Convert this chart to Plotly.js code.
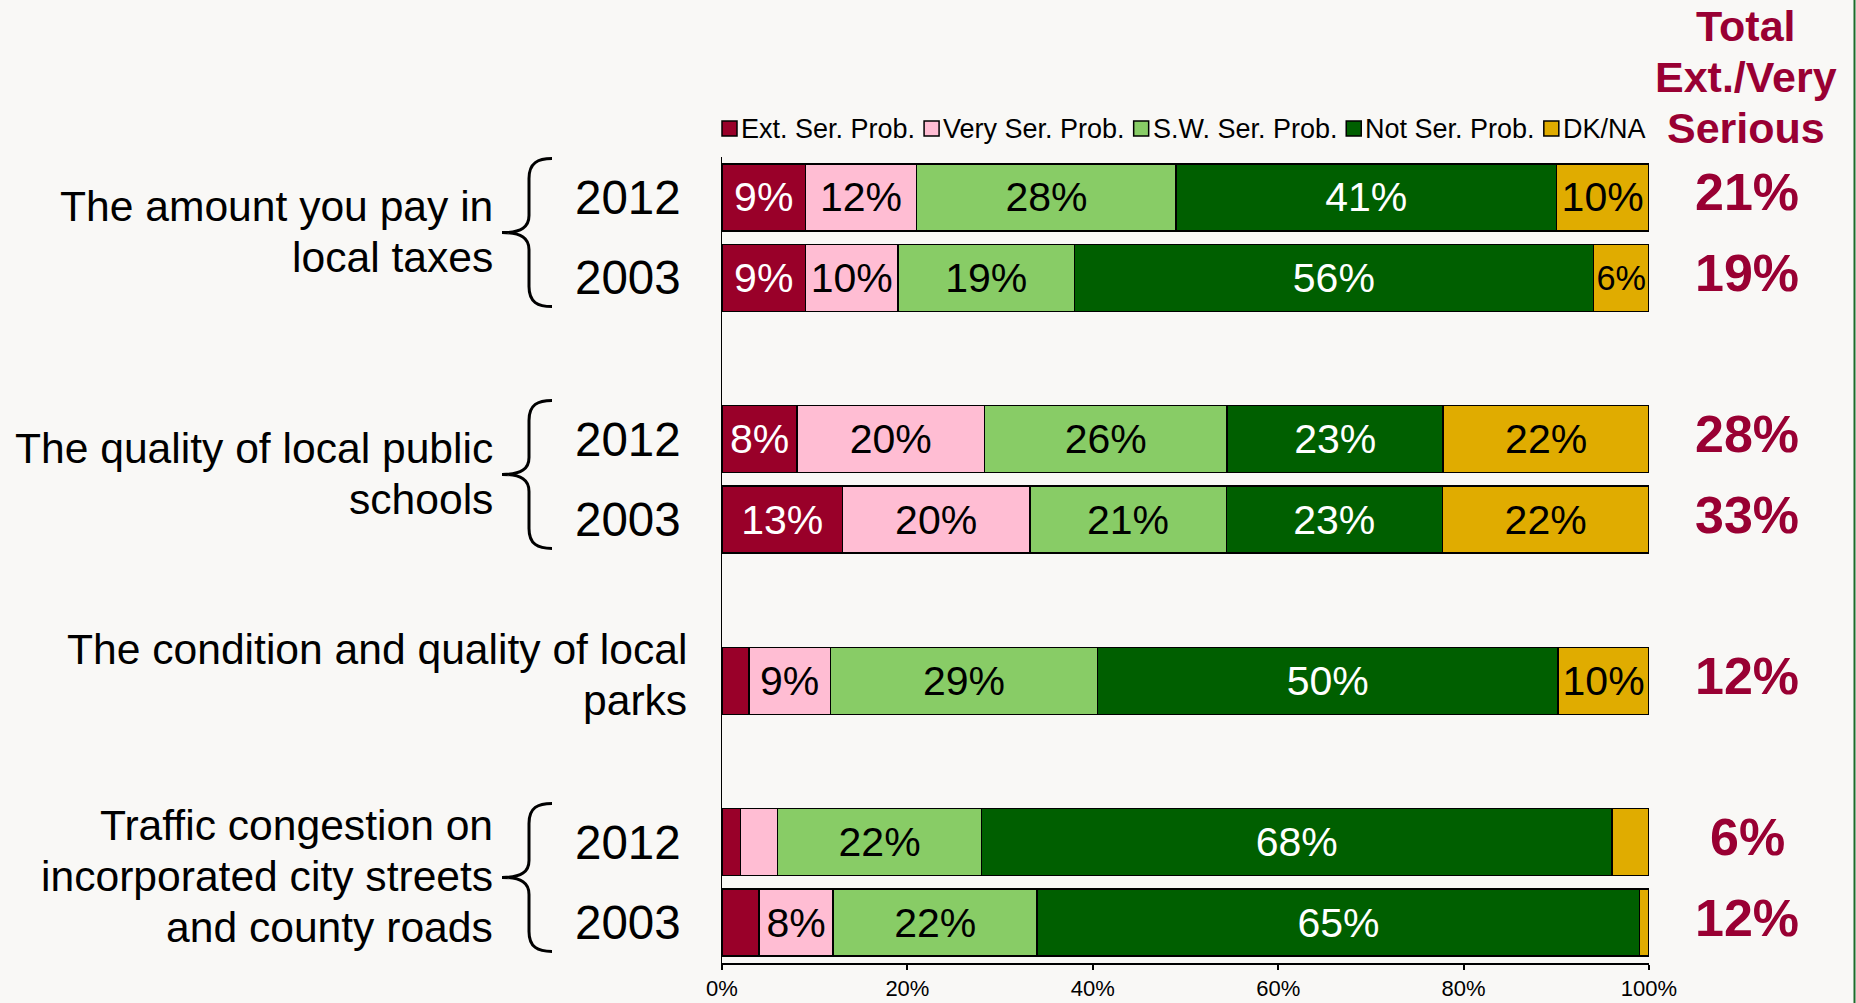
<!DOCTYPE html>
<html><head><meta charset="utf-8">
<script src="https://cdn.plot.ly/plotly-3.0.1.min.js"></script>
<style>html,body{margin:0;padding:0;background:#F9F8F6;} #chart{width:1856px;height:1003px;}</style>
</head><body><div id="chart"></div>
<script>
// ---------------- DATA ----------------
const categories = ['tax2012','tax2003','gap1','sch2012','sch2003','gap2','parks','gap3','traf2012','traf2003'];
const rows = ['tax2012','tax2003','sch2012','sch2003','parks','traf2012','traf2003'];
const yearLabels = ['2012','2003','2012','2003','','2012','2003'];
const seriesNames = ['Ext. Ser. Prob.','Very Ser. Prob.','S.W. Ser. Prob.','Not Ser. Prob.','DK/NA'];
const extSer  = [9, 9, 8.1, 13, 2.9, 2, 4];
const verySer = [12, 10, 20.2, 20.2, 8.8, 4, 8];
const swSer   = [28, 19, 26.2, 21.2, 28.8, 22, 22];
const notSer  = [41, 56, 23.3, 23.3, 49.7, 68, 65];
const dkNa    = [10, 6, 22.2, 22.3, 9.8, 4, 1];
const totals  = ['21%','19%','28%','33%','12%','6%','12%'];
const totalHeader = ['Total','Ext./Very','Serious'];
const groupLabels = [
  ['The amount you pay in','local taxes'],
  ['The quality of local public','schools'],
  ['The condition and quality of local','parks'],
  ['Traffic congestion on','incorporated city streets','and county roads']
];
const groupRows = [['tax2012','tax2003'],['sch2012','sch2003'],['parks'],['traf2012','traf2003']];
const xTicks = [0,20,40,60,80,100];

// ---------------- STYLE ----------------
const W = 1856, H = 1003;
const M = {l:722, r:207, t:157, b:40};
const PW = W - M.l - M.r, PH = H - M.t - M.b;
const px2x = p => (p - M.l) / PW;
const py2y = p => (H - M.b - p) / PH;
const FONT = "'Liberation Sans', Arial, Helvetica, sans-serif";
const BG = '#F9F8F6';
const RED = '#990033';
const colors = ['#990029','#FFBDD3','#88CC66','#005F00','#E0AC00'];
const textColors = ['#FFFFFF','#000000','#000000','#FFFFFF','#000000'];
const seriesValues = [extSer, verySer, swSer, notSer, dkNa];

const traces = seriesValues.map((vals, i) => ({
  type: 'bar', orientation: 'h', name: seriesNames[i],
  y: rows, x: vals,
  text: vals.map(v => v >= 5 ? Math.round(v) + '%' : ''),
  textposition: 'inside', insidetextanchor: 'middle', textangle: 0,
  insidetextfont: {family: FONT, size: 41, color: textColors[i]},
  marker: {color: colors[i], line: {color: '#000000', width: 1.5}},
  hoverinfo: 'skip'
}));

const annotations = [];
const shapes = [];

// year labels
rows.forEach((r, i) => {
  if (!yearLabels[i]) return;
  annotations.push({xref:'paper', yref:'y', x:px2x(683), y:categories.indexOf(r),
    xanchor:'right', yanchor:'middle', text:yearLabels[i], showarrow:false,
    font:{family:FONT, size:47.5, color:'#000'}});
});
// totals
rows.forEach((r, i) => {
  annotations.push({xref:'paper', yref:'y', x:px2x(1747), y:categories.indexOf(r),
    xanchor:'center', yanchor:'middle', text:totals[i], showarrow:false, yshift:5,
    font:{family:FONT, size:52, color:RED, weight:'bold'}});
});
// header
totalHeader.forEach((t, i) => {
  annotations.push({xref:'paper', yref:'paper', x:px2x(1746), y:py2y(26 + i*51),
    xanchor:'center', yanchor:'middle', text:t, showarrow:false,
    font:{family:FONT, size:43, color:RED, weight:'bold'}});
});
// group labels and braces
groupLabels.forEach((lines, g) => {
  const idx = groupRows[g].map(r => categories.indexOf(r));
  const c = idx.reduce((a,b)=>a+b,0)/idx.length;
  const hasBrace = idx.length > 1;
  const rightPx = hasBrace ? 495 : 689;
  const lh = 51;
  lines.forEach((ln, k) => {
    annotations.push({xref:'paper', yref:'y', x:px2x(rightPx), y:c,
      xanchor:'right', yanchor:'middle', text:ln, showarrow:false,
      yshift: ((lines.length-1)/2 - k)*lh + 6,
      font:{family:FONT, size:42.6, color:'#000'}});
  });
  if (hasBrace) {
    const u = 5;
    const P = (x,y) => x + ',' + (y + u);
    const path = 'M' + P(50,74) + ' C' + P(36,74) + ' ' + P(27,70) + ' ' + P(27,54) +
      ' L' + P(27,17) + ' C' + P(27,6) + ' ' + P(20,0) + ' ' + P(0,0) +
      ' C' + P(20,0) + ' ' + P(27,-6) + ' ' + P(27,-17) +
      ' L' + P(27,-54) + ' C' + P(27,-70) + ' ' + P(36,-74) + ' ' + P(50,-74);
    shapes.push({type:'path', xref:'paper', yref:'y', xsizemode:'pixel', ysizemode:'pixel',
      xanchor:px2x(502), yanchor:c, path:path, line:{color:'#000', width:3}});
  }
});

// custom legend
const LEGFS = 27;
const ctx = document.createElement('canvas').getContext('2d');
ctx.font = LEGFS + "px 'Liberation Sans', Arial";
let lx = 722;
const legY = 128.5, sq = 15;
seriesNames.forEach((nm, i) => {
  shapes.push({type:'rect', xref:'paper', yref:'paper',
    x0:px2x(lx), x1:px2x(lx+sq), y0:py2y(legY+sq/2), y1:py2y(legY-sq/2),
    fillcolor:colors[i], line:{color:'#000', width:1.5}});
  const tx = lx + sq + 4;
  annotations.push({xref:'paper', yref:'paper', x:px2x(tx), y:py2y(legY),
    xanchor:'left', yanchor:'middle', text:nm, showarrow:false, xshift:-2,
    font:{family:FONT, size:LEGFS, color:'#000'}});
  lx = tx + ctx.measureText(nm).width + 9;
});

// right border line
shapes.push({type:'line', xref:'paper', yref:'paper', x0:px2x(1854.5), x1:px2x(1854.5),
  y0:py2y(0), y1:py2y(H), line:{color:'#1F6B2A', width:2}});

const layout = {
  width: W, height: H, margin: {l:M.l, r:M.r, t:M.t, b:M.b, pad:0},
  paper_bgcolor: BG, plot_bgcolor: BG,
  barmode: 'stack', bargap: 0.168, showlegend: false,
  font: {family: FONT, color: '#000'},
  xaxis: {range:[0,100], tickvals:xTicks, ticktext:xTicks.map(v=>v+'%'),
    showgrid:false, zeroline:false, showline:true, linecolor:'#000', linewidth:2,
    ticks:'outside', ticklen:5, tickwidth:2, tickcolor:'#000',
    tickfont:{family:FONT, size:22, color:'#000'}, fixedrange:true},
  yaxis: {type:'category', categoryorder:'array', categoryarray:categories,
    range:[9.5,-0.5], showticklabels:false, ticks:'', showgrid:false, zeroline:false,
    showline:true, linecolor:'#000', linewidth:1.5, fixedrange:true},
  annotations: annotations, shapes: shapes
};

Plotly.newPlot('chart', traces, layout, {displayModeBar:false, staticPlot:true});
</script></body></html>
